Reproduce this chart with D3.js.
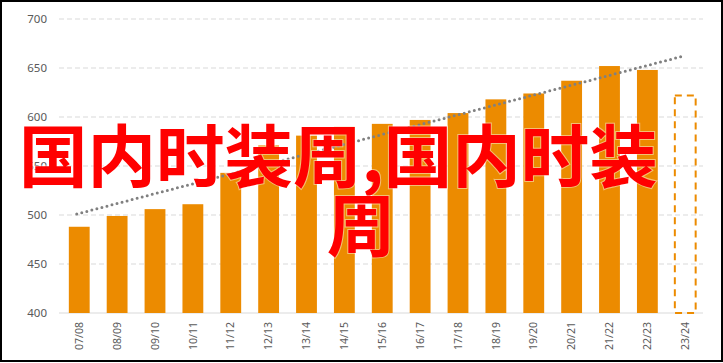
<!DOCTYPE html>
<html>
<head>
<meta charset="utf-8">
<script src="https://cdn.jsdelivr.net/npm/d3@7"></script>
<style>
  html, body { margin: 0; padding: 0; background: #fff; }
</style>
</head>
<body>
<div id="chart"></div>
<script>
const seasons = ["07/08", "08/09", "09/10", "10/11", "11/12", "12/13", "13/14", "14/15",
  "15/16", "16/17", "17/18", "18/19", "19/20", "20/21", "21/22", "22/23", "23/24"];
const values = [488, 499, 506, 511, 543, 571, 581, 590, 593, 597, 604, 618, 624, 637, 652, 648, 622];
const forecast = ["23/24"];
const trendEnds = [501, 662];
const yTicks = [400, 450, 500, 550, 600, 650, 700];
const overlayLines = ["国内时装周,国内时装", "周"];

(function chart() {
  const width = 723, height = 363,
    margin = ({ top: 19, right: 20, bottom: 50, left: 59 });

  const svg = d3.select("#chart")
    .append("svg")
    .attr("width", width)
    .attr("height", height)
    .style("display", "block");

  const x = d3.scaleBand()
    .domain(seasons)
    .range([margin.left + 1.5, width - margin.right + 1])
    .paddingInner(0.45)
    .paddingOuter(0.22);

  const y = d3.scaleLinear()
    .domain([400, 700])
    .range([height - margin.bottom, margin.top]);

  // gridlines
  svg.append("g")
    .selectAll("line")
    .data(yTicks.filter(d => d > 400))
    .join("line")
    .attr("x1", margin.left)
    .attr("x2", width - margin.right)
    .attr("y1", d => y(d))
    .attr("y2", d => y(d))
    .attr("stroke", "#d9d9d9")
    .attr("stroke-dasharray", "5,3");

  svg.append("line")
    .attr("x1", margin.left)
    .attr("x2", width - margin.right)
    .attr("y1", y(400))
    .attr("y2", y(400))
    .attr("stroke", "#d9d9d9");

  // y axis labels
  const yAxis = svg.append("g")
    .attr("transform", `translate(${margin.left - 12},0)`)
    .call(d3.axisLeft(y).tickValues(yTicks).tickSize(0).tickPadding(0));
  yAxis.select(".domain").remove();
  yAxis.selectAll("text")
    .attr("fill", "#595959")
    .attr("font-family", "'Noto Sans', sans-serif")
    .attr("font-size", 11.5);

  // x axis labels
  const xAxis = svg.append("g")
    .attr("transform", `translate(0,${y(400)})`)
    .call(d3.axisBottom(x).tickSize(0).tickPadding(0));
  xAxis.select(".domain").remove();
  xAxis.selectAll("text")
    .attr("fill", "#595959")
    .attr("font-family", "'Noto Sans', sans-serif")
    .attr("font-size", 10.5)
    .attr("text-anchor", "end")
    .attr("dy", "0.35em")
    .attr("transform", "translate(0,9) rotate(-90)");

  // bars
  svg.append("g")
    .selectAll("rect")
    .data(seasons.map((s, i) => ({ s, v: values[i] })))
    .join("rect")
    .attr("x", d => x(d.s))
    .attr("width", x.bandwidth())
    .attr("y", d => y(d.v))
    .attr("height", d => y(400) - y(d.v))
    .attr("fill", d => forecast.includes(d.s) ? "none" : "#ec8b00")
    .attr("stroke", d => forecast.includes(d.s) ? "#ec8b00" : "none")
    .attr("stroke-width", 2)
    .attr("stroke-dasharray", d => forecast.includes(d.s) ? "7,5" : null);

  // trend line
  const cx = s => x(s) + x.bandwidth() / 2 - 2.5;
  svg.append("line")
    .attr("x1", cx(seasons[0]))
    .attr("y1", y(trendEnds[0]))
    .attr("x2", cx(seasons[seasons.length - 1]))
    .attr("y2", y(trendEnds[1]))
    .attr("stroke", "#808080")
    .attr("stroke-width", 3)
    .attr("stroke-linecap", "round")
    .attr("stroke-dasharray", "0,5.2");

  // overlay text
  const overlay = svg.append("g")
    .attr("font-family", "'Noto Sans CJK SC', sans-serif")
    .attr("font-weight", "bold")
    .attr("font-size", 68.5)
    .attr("fill", "#ff0000")
    .attr("stroke", "rgba(255,255,255,0.45)")
    .attr("stroke-width", 2)
    .attr("paint-order", "stroke");

  overlay.append("text")
    .attr("x", 19)
    .attr("y", 182)
    .text(overlayLines[0]);

  overlay.append("text")
    .attr("x", 361)
    .attr("y", 251)
    .attr("text-anchor", "middle")
    .text(overlayLines[1]);

  // frame
  svg.append("rect")
    .attr("x", 1)
    .attr("y", 1)
    .attr("width", width - 2)
    .attr("height", height - 3)
    .attr("fill", "none")
    .attr("stroke", "#000")
    .attr("stroke-width", 2);
})();
</script>
</body>
</html>
